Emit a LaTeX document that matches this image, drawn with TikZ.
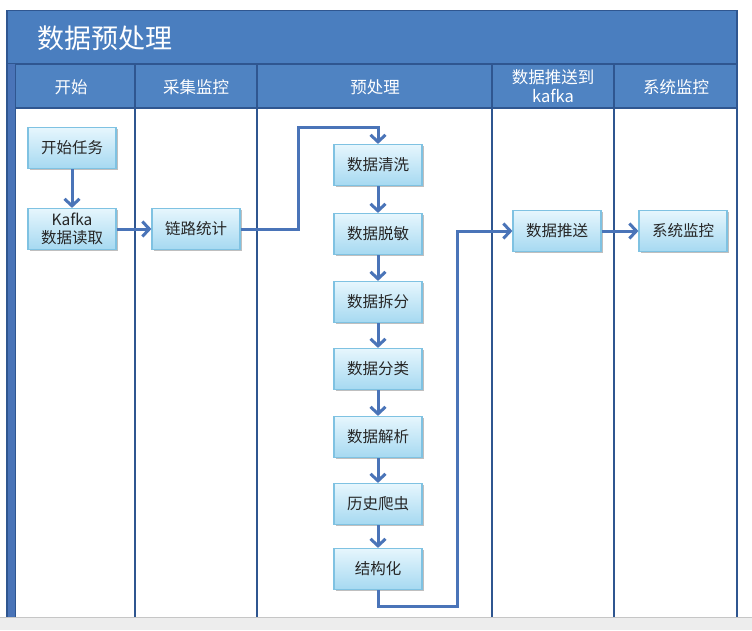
\documentclass[tikz,border=0pt]{standalone}
\usepackage{fontspec}
\setmainfont{Noto Sans CJK SC}
\usetikzlibrary{arrows.meta,shadows}
\definecolor{titleblue}{HTML}{4A7EBF}
\definecolor{headblue}{HTML}{4F83C2}
\definecolor{lineblue}{HTML}{2F5690}
\definecolor{arrowblue}{HTML}{4A74B8}
\definecolor{boxtop}{HTML}{E6F6FD}
\definecolor{boxbot}{HTML}{A6D9F1}
\definecolor{boxedge}{HTML}{7FC2E2}
\definecolor{boxtext}{HTML}{262626}
\tikzset{
  stepbox/.style={rectangle, draw=boxedge, line width=1.2pt, top color=boxtop, bottom color=boxbot,
    minimum width=88pt, minimum height=41pt, inner sep=1pt, align=center,
    font=\fontsize{15.5}{18}\selectfont, text=boxtext,
    drop shadow={shadow xshift=1.5pt, shadow yshift=-1.5pt, opacity=0.25, fill=black}},
  flow/.style={draw=arrowblue, line width=3pt, -{Straight Barb[length=7pt,width=15pt]}},
  headtext/.style={text=white, font=\fontsize{16.5}{18}\selectfont, align=center},
  sep/.style={draw=lineblue, line width=2.5pt}
}
\begin{document}
\begin{tikzpicture}[x=1pt,y=-1pt]
\useasboundingbox (0,0) rectangle (752,630);
\fill[white] (0,0) rectangle (752,630);
% bottom bar
\fill[gray!14] (0,617) rectangle (752,630);
\draw[gray!45, line width=1pt] (0,617) -- (752,617);
% title and header
\fill[titleblue] (7,10) rectangle (738,64);
\fill[headblue] (7,64) rectangle (738,108);
\draw[lineblue, line width=1.5pt] (7,64) -- (738,64);
\draw[lineblue, line width=1.5pt] (15,108) -- (738,108);
\draw[lineblue, line width=1pt] (7,10) -- (738,10);
% left thick border
\fill[arrowblue] (7,64) rectangle (16,617);
\draw[lineblue, line width=1.5pt] (15.5,64) -- (15.5,617);
\draw[lineblue, line width=1.2pt] (7,10) -- (7,617);
% column separators
\foreach \cx in {135,257,492,614} \draw[sep] (\cx,64) -- (\cx,617);
\draw[lineblue, line width=2.5pt] (737,10) -- (737,617);
% title
\node[anchor=west, text=white, font=\fontsize{27}{30}\selectfont] (title) at (34,38) {数据预处理};
% headers
\node[headtext] (h1) at (71,87) {开始};
\node[headtext] (h2) at (196,87) {采集监控};
\node[headtext] (h3) at (375,87) {预处理};
\node[headtext, font=\fontsize{16.5}{19}\selectfont] (h4) at (553,86) {数据推送到\\kafka};
\node[headtext] (h5) at (676,87) {系统监控};
% boxes
\node[stepbox] (start) at (72,148) {开始任务};
\node[stepbox, font=\fontsize{15.5}{17.5}\selectfont] (kafka) at (72,229) {Kafka\\数据读取};
\node[stepbox] (link) at (196,229) {链路统计};
\node[stepbox] (p1) at (378,165) {数据清洗};
\node[stepbox] (p2) at (378,234) {数据脱敏};
\node[stepbox] (p3) at (378,302) {数据拆分};
\node[stepbox] (p4) at (378,369) {数据分类};
\node[stepbox] (p5) at (378,437) {数据解析};
\node[stepbox] (p6) at (378,504) {历史爬虫};
\node[stepbox] (p7) at (378,569) {结构化};
\node[stepbox] (push) at (557,231) {数据推送};
\node[stepbox] (mon) at (683,231) {系统监控};
% connectors
\draw[flow] (start) -- (kafka);
\draw[flow] (kafka) -- (link);
\draw[flow] (link.east) -- (298,229) -- (298,127) -- (378,127) -- (p1.north);
\draw[flow] (p1) -- (p2);
\draw[flow] (p2) -- (p3);
\draw[flow] (p3) -- (p4);
\draw[flow] (p4) -- (p5);
\draw[flow] (p5) -- (p6);
\draw[flow] (p6) -- (p7);
\draw[flow] (p7.south) -- (378,606) -- (457,606) -- (457,231) -- (push.west);
\draw[flow] (push) -- (mon);
\end{tikzpicture}
\end{document}
